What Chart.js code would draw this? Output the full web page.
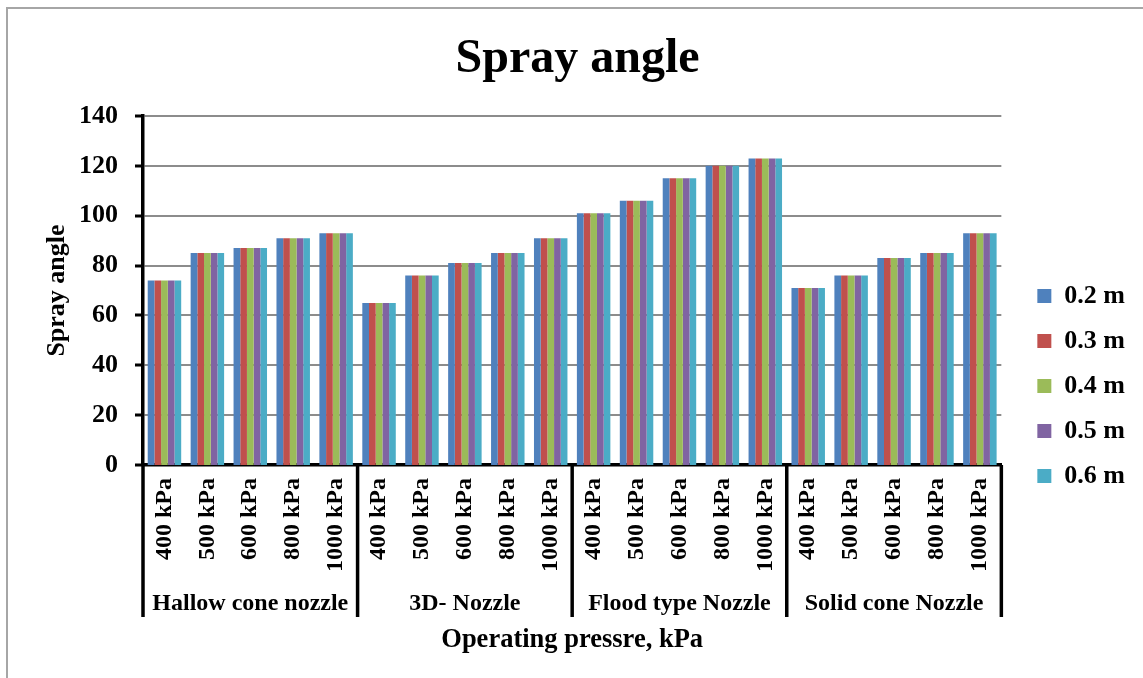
<!DOCTYPE html>
<html>
<head>
<meta charset="utf-8">
<script src="https://cdn.jsdelivr.net/npm/chart.js@4"></script>
<style>
  html, body { margin: 0; padding: 0; background: #fff; }
  #wrap { position: relative; width: 1143px; height: 678px; }
  #frame { position: absolute; left: 6px; top: 7px; width: 1200px; height: 700px; border-left: 2px solid #a6a6a6; border-top: 2px solid #a6a6a6; box-sizing: border-box; pointer-events: none; }
  canvas { position: absolute; left: 0; top: 0; }
</style>
</head>
<body>
<div id="wrap">
  <canvas id="c" width="1143" height="678"></canvas>
  <div id="frame"></div>
</div>
<script>
const pressures = ['400 kPa', '500 kPa', '600 kPa', '800 kPa', '1000 kPa'];
const groups = ['Hallow cone nozzle', '3D- Nozzle', 'Flood type Nozzle', 'Solid cone Nozzle'];
const categories = [].concat(pressures, pressures, pressures, pressures);
const seriesNames = ['0.2 m', '0.3 m', '0.4 m', '0.5 m', '0.6 m'];
const yTicks = [0, 20, 40, 60, 80, 100, 120, 140];

const s02 = [74, 85, 87, 91, 93, 65, 76, 81, 85, 91, 101, 106, 115, 120, 123, 71, 76, 83, 85, 93];
const s03 = [74, 85, 87, 91, 93, 65, 76, 81, 85, 91, 101, 106, 115, 120, 123, 71, 76, 83, 85, 93];
const s04 = [74, 85, 87, 91, 93, 65, 76, 81, 85, 91, 101, 106, 115, 120, 123, 71, 76, 83, 85, 93];
const s05 = [74, 85, 87, 91, 93, 65, 76, 81, 85, 91, 101, 106, 115, 120, 123, 71, 76, 83, 85, 93];
const s06 = [74, 85, 87, 91, 93, 65, 76, 81, 85, 91, 101, 106, 115, 120, 123, 71, 76, 83, 85, 93];

const colors = ['#4F81BD', '#C0504D', '#9BBB59', '#8064A2', '#4BACC6'];
const seriesData = [s02, s03, s04, s05, s06];

const FONT = '"Liberation Serif", "Times New Roman", serif';
const GROUP_BAND = 45;

const separatorPlugin = {
  id: 'separators',
  afterDraw(chart) {
    const x = chart.scales.x, x2 = chart.scales.x2;
    const ctx = chart.ctx;
    const n = categories.length;
    const per = pressures.length;
    const xs = [x.left];
    for (let i = per; i < n; i += per) {
      xs.push((x.getPixelForValue(i - 1) + x.getPixelForValue(i)) / 2);
    }
    xs.push(x.right);
    ctx.save();
    ctx.strokeStyle = '#000';
    ctx.lineWidth = 3.5;
    xs.forEach(px => {
      ctx.beginPath();
      ctx.moveTo(px, x.top);
      ctx.lineTo(px, x2.top + GROUP_BAND);
      ctx.stroke();
    });
    ctx.restore();
  }
};

new Chart(document.getElementById('c'), {
  type: 'bar',
  data: {
    labels: categories,
    datasets: seriesNames.map((name, i) => ({
      label: name,
      data: seriesData[i],
      backgroundColor: colors[i],
      borderWidth: 0,
      categoryPercentage: 0.78,
      barPercentage: 1.0
    }))
  },
  options: {
    responsive: false,
    animation: false,
    devicePixelRatio: 1,
    layout: { padding: { left: 20, right: 8, top: 0, bottom: 0 } },
    plugins: {
      title: {
        display: true,
        text: 'Spray angle',
        color: '#000',
        font: { family: FONT, size: 48, weight: 'bold' },
        padding: { top: 31, bottom: 27.4 }
      },
      legend: {
        position: 'right',
        align: 'center',
        title: { display: true, text: ' ', font: { size: 2 }, padding: 45.8 },
        labels: {
          color: '#000',
          font: { family: FONT, size: 26, weight: 'bold' },
          boxWidth: 14,
          boxHeight: 14,
          padding: 19
        }
      },
      tooltip: { enabled: false }
    },
    scales: {
      x: {
        type: 'category',
        position: 'bottom',
        weight: 0,
        offset: true,
        afterFit(s) { s.height = 107; },
        grid: { display: false, drawTicks: false },
        border: { display: true, color: '#000', width: 3.5 },
        ticks: {
          color: '#000',
          font: { family: FONT, size: 24, weight: 'bold' },
          minRotation: 90,
          maxRotation: 90,
          autoSkip: false,
          padding: 13
        }
      },
      x2: {
        type: 'category',
        position: 'bottom',
        weight: 1,
        labels: groups,
        offset: true,
        afterFit(s) { s.height = 106; },
        grid: { display: false, drawTicks: false },
        border: { display: false },
        ticks: {
          color: '#000',
          font: { family: FONT, size: 24, weight: 'bold' },
          maxRotation: 0,
          minRotation: 0,
          autoSkip: false,
          padding: 17
        },
        title: {
          display: true,
          text: 'Operating pressre, kPa',
          color: '#000',
          font: { family: FONT, size: 26.5, weight: 'bold' },
          padding: { top: 22, bottom: 22 }
        }
      },
      gap: {
        type: 'linear',
        position: 'right',
        display: true,
        afterFit(s) { s.width = 17; },
        grid: { display: false, drawTicks: false },
        border: { display: false },
        ticks: { display: false }
      },
      y: {
        min: 0,
        max: 140,
        afterBuildTicks(scale) { scale.ticks = yTicks.map(v => ({ value: v })); },
        afterFit(s) { s.width = 123; },
        grid: {
          color: '#8c8c8c',
          lineWidth: 2,
          tickColor: '#000',
          tickWidth: 3,
          tickLength: 8
        },
        border: { display: true, color: '#000', width: 3.5 },
        ticks: {
          color: '#000',
          font: { family: FONT, size: 26, weight: 'bold' },
          padding: 17
        },
        title: {
          display: true,
          text: 'Spray angle',
          color: '#000',
          font: { family: FONT, size: 26, weight: 'bold' },
          padding: { top: 21.4, bottom: 10 }
        }
      }
    }
  },
  plugins: [separatorPlugin]
});
</script>
</body>
</html>
